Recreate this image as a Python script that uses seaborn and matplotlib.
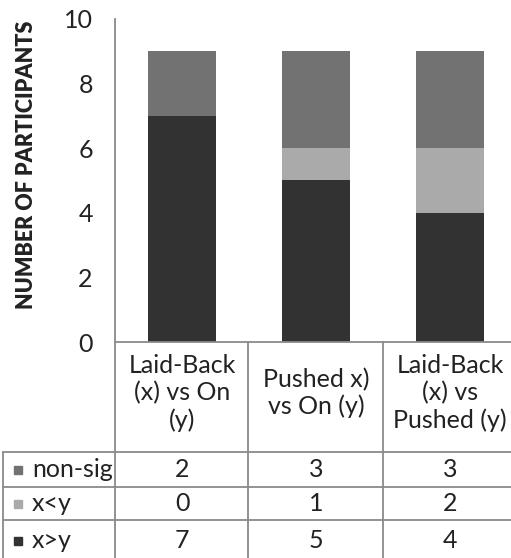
import pandas as pd
import seaborn as sns
import matplotlib
matplotlib.use('Agg')
import matplotlib.pyplot as plt
from matplotlib.lines import Line2D
from matplotlib.patches import Rectangle
from matplotlib.transforms import blended_transform_factory

# 数据
categories = ["Laid-Back\n(x) vs On\n(y)", "Pushed x)\nvs On (y)", "Laid-Back\n(x) vs\nPushed (y)"]
x_gt_y = [7, 5, 4]
x_lt_y = [0, 1, 2]
non_sig = [2, 3, 3]
series_names = ["non-sig", "x<y", "x>y"]
series_colors = ["#727272", "#aaaaaa", "#323232"]
y_ticks = [0, 2, 4, 6, 8, 10]

sns.set_style("white")
plt.rcParams['font.family'] = ['Lato', 'DejaVu Sans']

W, H = 511, 558
fig = plt.figure(figsize=(W / 100, H / 100), dpi=100)

def fx(x):
    return x / W

def fy(y):
    return 1 - y / H

# 坐标轴区域（像素）
ax_left, ax_right, ax_top, ax_bottom = 115, 517, 19, 342
ax = fig.add_axes([fx(ax_left), fy(ax_bottom), fx(ax_right - ax_left), (ax_bottom - ax_top) / H])

df = pd.DataFrame({'cat': categories, 'x>y': x_gt_y, 'x<y': x_lt_y, 'non-sig': non_sig})
df['lvl2'] = df['x>y'] + df['x<y']
df['total'] = df['lvl2'] + df['non-sig']

# 堆叠柱：从最高的开始画
sns.barplot(data=df, x='cat', y='total', color=series_colors[0], saturation=1, width=0.51, linewidth=0, ax=ax)
sns.barplot(data=df, x='cat', y='lvl2', color=series_colors[1], saturation=1, width=0.51, linewidth=0, ax=ax)
sns.barplot(data=df, x='cat', y='x>y', color=series_colors[2], saturation=1, width=0.51, linewidth=0, ax=ax)

ax.set_xlim(-0.5, 2.5)
ax.set_ylim(0, 10)
ax.set_yticks(y_ticks)
ax.set_yticklabels([str(t) for t in y_ticks], fontsize=18, color='#222222')
ax.tick_params(axis='y', length=0, pad=16)
ax.set_xticks([])
ax.set_xlabel('')
ax.set_ylabel('')
for s in ['top', 'right', 'bottom']:
    ax.spines[s].set_visible(False)
ax.spines['left'].set_color('#8a8a8a')
ax.spines['left'].set_linewidth(1.3)

fig.text(fx(27), fy(165), "NUMBER OF PARTICIPANTS", rotation=90, ha='center', va='center',
         fontsize=15.5, fontweight='heavy', color='#222222')

# 数据表
grid_c = '#8a8a8a'
lw = 1.3
row_lines = [452, 487, 520]
col_lines = [115, 248, 383]

def hline(y, x0, x1):
    fig.add_artist(Line2D([fx(x0), fx(x1)], [fy(y), fy(y)], color=grid_c, lw=lw, transform=fig.transFigure))

def vline(x, y0, y1):
    fig.add_artist(Line2D([fx(x), fx(x)], [fy(y0), fy(y1)], color=grid_c, lw=lw, transform=fig.transFigure))

hline(ax_bottom, 115, W)
for y in row_lines:
    hline(y, 3, W)
for x in col_lines:
    vline(x, ax_bottom, H)
vline(3, row_lines[0], H)

tr = blended_transform_factory(ax.transData, fig.transFigure)
for i, c in enumerate(categories):
    ax.text(i, fy(393), c, transform=tr, ha='center', va='center', fontsize=18,
            color='#222222', linespacing=1.2, clip_on=False)

row_centers = [469.5, 503.5, 541]
row_values = [non_sig, x_lt_y, x_gt_y]
for r, (name, col, vals) in enumerate(zip(series_names, series_colors, row_values)):
    yc = row_centers[r]
    fig.add_artist(Rectangle((fx(14), fy(yc + 4)), 8 / W, 8 / H, color=col, transform=fig.transFigure))
    fig.text(fx(32), fy(yc), name, ha='left', va='center', fontsize=18, color='#222222')
    for i, v in enumerate(vals):
        ax.text(i, fy(yc), str(v), transform=tr, ha='center', va='center', fontsize=18,
                color='#222222', clip_on=False)

fig.savefig('out.png', dpi=100)
